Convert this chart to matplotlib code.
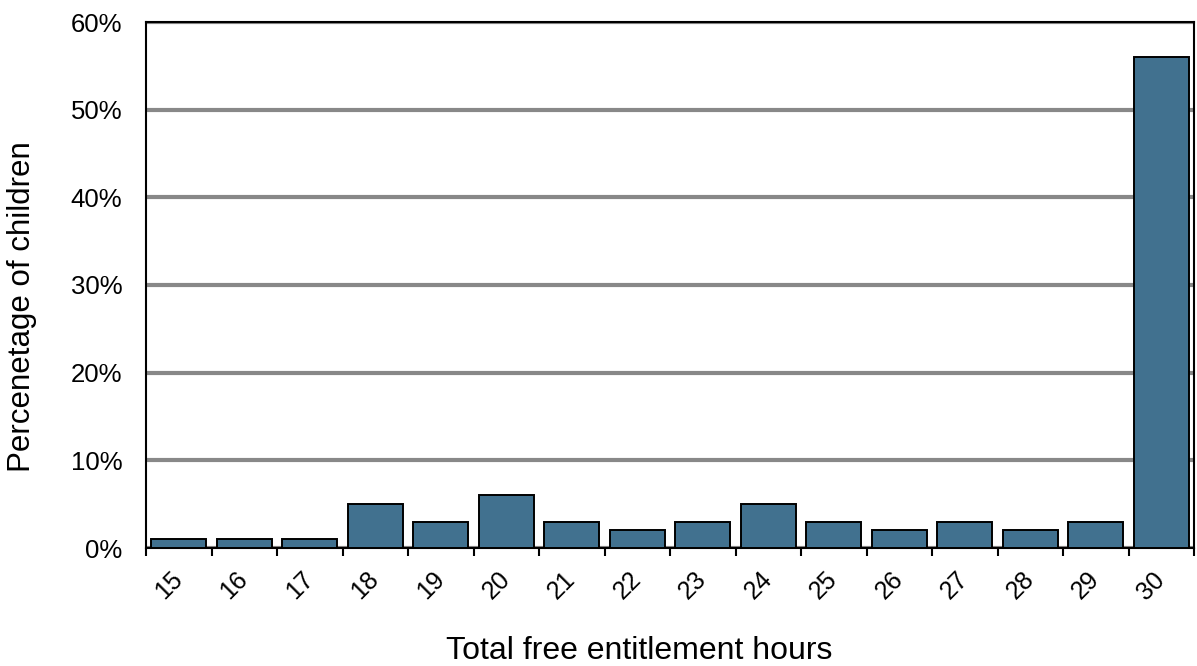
import matplotlib.pyplot as plt
from matplotlib.ticker import FixedLocator, PercentFormatter

plt.rcParams['font.family'] = ['Liberation Sans', 'DejaVu Sans']

hours = ['15', '16', '17', '18', '19', '20', '21', '22', '23', '24', '25', '26', '27', '28', '29', '30']
pct = [1, 1, 1, 5, 3, 6, 3, 2, 3, 5, 3, 2, 3, 2, 3, 56]

fig = plt.figure(figsize=(11.97, 6.66), dpi=100)
ax = fig.add_axes([146 / 1197, 1 - 548 / 666, (1194 - 146) / 1197, (548 - 22) / 666])

x = list(range(len(hours)))
ax.bar(x, pct, width=0.84, color='#41718f', edgecolor='black', linewidth=1.4, zorder=3)

ax.set_xlim(-0.5, len(hours) - 0.5)
ax.set_ylim(0, 60)
ax.set_yticks(range(0, 61, 10))
ax.yaxis.set_major_formatter(PercentFormatter(decimals=0))
ax.grid(axis='y', color='#888888', linewidth=3, zorder=1)
ax.set_axisbelow(True)

# category labels sit at bar centres, ticks go on the boundaries
ax.set_xticks(x)
ax.set_xticklabels(hours, rotation=45, ha='right', va='center', rotation_mode='anchor')
ax.xaxis.set_minor_locator(FixedLocator([i - 0.5 for i in range(len(hours) + 1)]))
ax.tick_params(axis='x', which='major', length=0, pad=20, labelsize=18)
ax.tick_params(axis='x', which='minor', length=6, width=1.5, direction='out')
ax.tick_params(axis='y', length=0, pad=17, labelsize=18.5)

for s in ax.spines.values():
    s.set_linewidth(1.5)
    s.set_color('black')

ax.set_xlabel('Total free entitlement hours', fontsize=23)
ax.set_ylabel('Percenetage of children', fontsize=22.5)
ax.xaxis.set_label_coords(0.471, -0.167)
ax.yaxis.set_label_coords(-0.104, 0.458)

fig.savefig('out.png', dpi=100)
